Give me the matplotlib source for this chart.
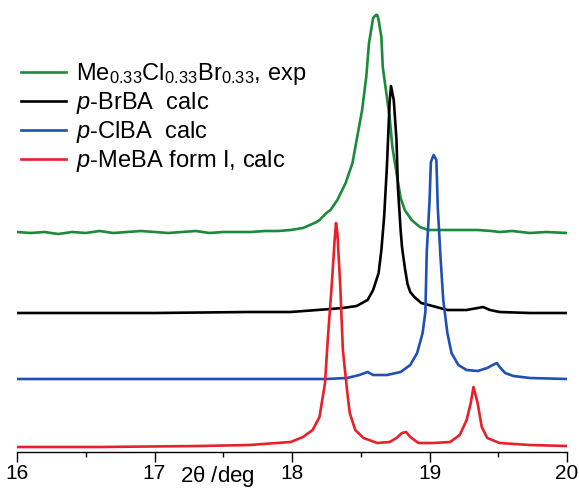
import numpy as np
import matplotlib
matplotlib.use("Agg")
import matplotlib.pyplot as plt
from matplotlib.ticker import MultipleLocator

plt.rcParams['font.family'] = ['Liberation Sans', 'DejaVu Sans']
plt.rcParams['mathtext.fontset'] = 'custom'
plt.rcParams['mathtext.rm'] = 'Liberation Sans'
plt.rcParams['mathtext.it'] = 'Liberation Sans:italic'

# --- data (2theta in deg, intensity in arbitrary units) ---
tt_exp = [16.00, 16.10, 16.20, 16.30, 16.40, 16.50, 16.60, 16.70, 16.80, 16.90,
          17.00, 17.10, 17.20, 17.30, 17.40, 17.50, 17.60, 17.70, 17.80, 17.90,
          17.99, 18.08, 18.18, 18.20, 18.25, 18.28, 18.33, 18.39, 18.44, 18.47,
          18.51, 18.54, 18.56, 18.59, 18.61, 18.62, 18.63, 18.65, 18.66, 18.69,
          18.71, 18.73, 18.76, 18.79, 18.82, 18.87, 18.93, 18.99, 19.08,
          19.20, 19.35, 19.45, 19.51, 19.60, 19.73, 19.85, 20.00]
I_exp = [220, 219, 220, 218, 220, 219, 221, 219, 220, 221,
         220, 219, 220, 221, 219, 220, 220, 220, 221, 221,
         222, 224, 230, 232, 239, 242, 252, 269, 289, 312,
         342, 375, 409, 434, 437, 437, 432, 415, 385, 355,
         335, 305, 279, 254, 242, 232, 225, 222, 222,
         222, 222, 221, 220, 221, 219, 220, 219]

tt_br = [16.00, 17.00, 17.69, 17.99, 18.28, 18.37, 18.47, 18.55, 18.59, 18.63,
         18.65, 18.67, 18.69, 18.71, 18.72, 18.74, 18.76, 18.77, 18.79, 18.80,
         18.82, 18.84, 18.86, 18.89, 18.94, 19.13, 19.27, 19.35, 19.39, 19.44,
         19.51, 19.73, 20.00]
I_br = [139, 139, 140, 140, 143, 144, 146, 152, 162, 179,
        202, 235, 285, 350, 366, 352, 312, 265, 222, 205,
        185, 168, 160, 155, 149, 142, 142, 144, 145, 142,
        140, 139, 139]

tt_cl = [16.00, 17.00, 17.99, 18.25, 18.40, 18.49, 18.55, 18.59, 18.69, 18.79,
         18.86, 18.91, 18.95, 18.97, 18.98, 19.00, 19.01, 19.03, 19.05, 19.06,
         19.08, 19.10, 19.13, 19.16, 19.21, 19.27, 19.35, 19.42, 19.46, 19.49,
         19.51, 19.55, 19.61, 19.73, 20.00]
I_cl = [73, 73, 73, 73, 74, 77, 80, 77, 77, 80,
        87, 99, 119, 140, 200, 250, 290, 297, 292, 245,
        195, 152, 119, 99, 87, 82, 81, 84, 87, 89,
        85, 79, 76, 74, 73]

tt_me = [16.00, 16.60, 17.33, 17.69, 17.99, 18.08, 18.15, 18.20, 18.24, 18.26,
         18.29, 18.31, 18.32, 18.33, 18.35, 18.37, 18.40, 18.42, 18.46, 18.52,
         18.62, 18.71, 18.76, 18.80, 18.83, 18.86, 18.92, 19.03, 19.15, 19.22,
         19.27, 19.30, 19.32, 19.35, 19.38, 19.42, 19.51, 19.73, 20.00]
I_me = [5, 5, 6, 7, 10, 15, 22, 35, 69, 112,
        169, 212, 229, 219, 169, 102, 62, 39, 22, 14,
        9, 10, 14, 19, 20, 15, 9, 9, 10, 17,
        32, 49, 65, 49, 25, 14, 9, 7, 6]

labels = [r'Me$_{\mathregular{0.33}}$Cl$_{\mathregular{0.33}}$Br$_{\mathregular{0.33}}$, exp',
          r'$\mathit{p}$-BrBA  calc',
          r'$\mathit{p}$-ClBA  calc',
          r'$\mathit{p}$-MeBA form I, calc']
colors = ['#1b8a3a', '#000000', '#1f50b4', '#e8202a']

fig = plt.figure(figsize=(5.79, 4.91), dpi=100)
ax = fig.add_axes([17/579, 39/491, 550/579, 452/491])

for tt, I, lab, c in zip([tt_exp, tt_br, tt_cl, tt_me], [I_exp, I_br, I_cl, I_me], labels, colors):
    ax.plot(tt, I, color=c, lw=1.9, label=lab, solid_joinstyle='round')

ax.set_xlim(16, 20)
ax.set_ylim(0, 452)
ax.xaxis.set_major_locator(MultipleLocator(1))
ax.xaxis.set_minor_locator(MultipleLocator(0.5))
ax.tick_params(axis='x', which='major', length=7, width=1, pad=1.8, labelsize=15)
ax.tick_params(axis='x', which='minor', length=3.5, width=1)
ax.set_yticks([])
for s in ['left', 'top', 'right']:
    ax.spines[s].set_visible(False)
ax.spines['bottom'].set_linewidth(1)

ax.set_xlabel(r'2$\mathregular{\theta}$ /deg', fontsize=16)
ax.xaxis.set_label_coords(0.365, -0.027)

ax.legend(loc='upper left', bbox_to_anchor=(-0.01, 0.885), frameon=False,
          fontsize=17, handlelength=1.9, handletextpad=0.45, labelspacing=0.12,
          borderaxespad=0)

plt.savefig('out.png', dpi=100)
